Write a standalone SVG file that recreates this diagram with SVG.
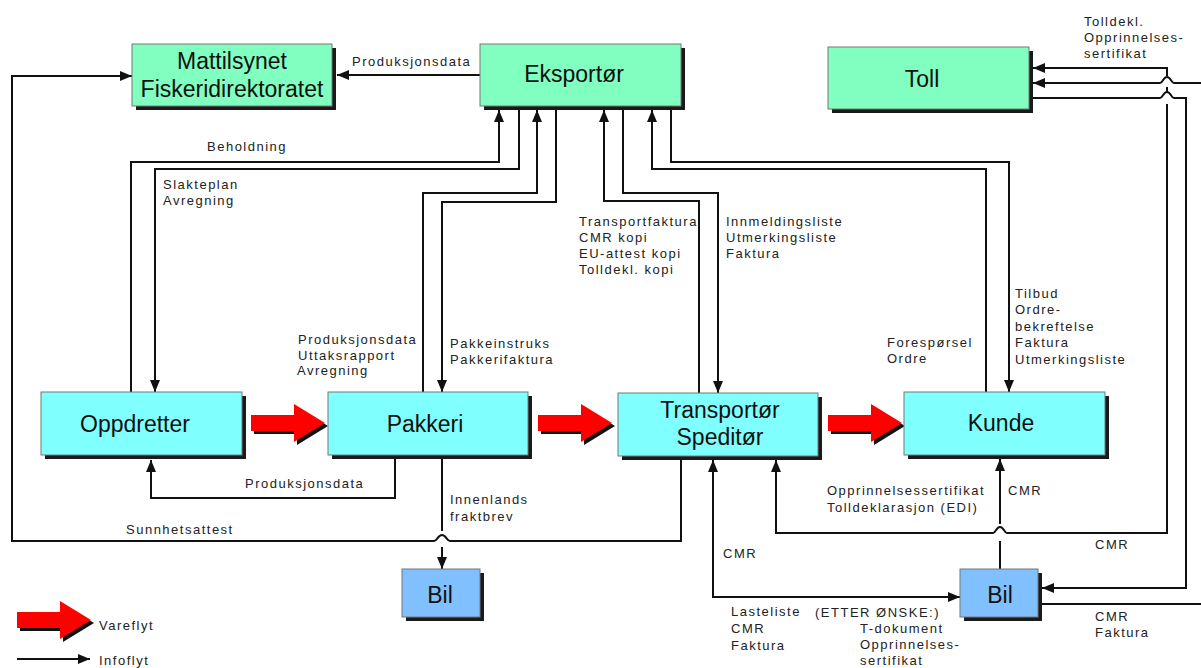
<svg xmlns="http://www.w3.org/2000/svg" width="1201" height="668" viewBox="0 0 1201 668">
<style>
.ln{fill:none;stroke:#111;stroke-width:2}
.lbl{font-family:"Liberation Sans",Arial,sans-serif;font-size:13px;letter-spacing:1.5px;fill:#222}
.nt{font-family:"Liberation Sans",Arial,sans-serif;font-size:23px;fill:#111;text-anchor:middle}
.sh{fill:#1a1a1a}
.g{fill:#80FFC0;stroke:#777;stroke-width:1}
.c{fill:#80FFFF;stroke:#777;stroke-width:1}
.b{fill:#80C0FF;stroke:#777;stroke-width:1}
.ra{fill:#FF0000}
.rs{fill:#111}
</style>
<defs>
<marker id="ah" markerUnits="userSpaceOnUse" markerWidth="12" markerHeight="10" refX="12" refY="5" orient="auto-start-reverse">
<path d="M0,0 L12,5 L0,10 Z" fill="#111"/>
</marker>
<path id="bigArrow" d="M0,-8 H43 V-19 L74,0 L43,19 V8 H0 Z"/>
</defs>

<g id="connectors">
<path class="ln" d="M480,75 H337" marker-end="url(#ah)"/>
<path class="ln" d="M681,456 V541 H450 C447,541 446,535 442,535 C438,535 437,541 434,541 H12 V76 H132" marker-end="url(#ah)"/>
<path class="ln" d="M395,456 V498 H151 V460" marker-end="url(#ah)"/>
<path class="ln" d="M131,392 V162 H499 V110" marker-end="url(#ah)"/>
<path class="ln" d="M519,106 V169 H155 V392" marker-end="url(#ah)"/>
<path class="ln" d="M423,392 V193 H537 V110" marker-end="url(#ah)"/>
<path class="ln" d="M556,106 V202 H442 V392" marker-end="url(#ah)"/>
<path class="ln" d="M699,393 V201 H604 V110" marker-end="url(#ah)"/>
<path class="ln" d="M623,106 V193 H718 V393" marker-end="url(#ah)"/>
<path class="ln" d="M986,392 V169 H652 V110" marker-end="url(#ah)"/>
<path class="ln" d="M671,106 V162 H1009 V392" marker-end="url(#ah)"/>
<path class="ln" d="M442,456 V531"/>
<path class="ln" d="M442,547 V569" marker-end="url(#ah)"/>
<path class="ln" d="M1033,68 H1167 V76" marker-start="url(#ah)"/>
<path class="ln" d="M1167,87 V92"/>
<path class="ln" d="M1167,104 V533 H1007 C1004,533 1004,527 1000,527 C996,527 996,533 993,533 H776 V460" marker-end="url(#ah)"/>
<path class="ln" d="M1201,83 H1174 C1171,83 1171,77 1167,77 C1163,77 1163,83 1160,83 H1033" marker-end="url(#ah)"/>
<path class="ln" d="M1029,98 H1160 C1163,98 1163,92 1167,92 C1171,92 1171,98 1174,98 H1186 V588 H1042" marker-end="url(#ah)"/>
<path class="ln" d="M1038,604 H1201"/>
<path class="ln" d="M1000,569 V541"/>
<path class="ln" d="M1000,524 V459" marker-end="url(#ah)"/>
<path class="ln" d="M713,460 V597 H960" marker-start="url(#ah)" marker-end="url(#ah)"/>
<path class="ln" d="M17,659 H90" marker-end="url(#ah)"/>
</g>

<g id="flow-arrows">
<use href="#bigArrow" class="rs" transform="translate(254,426)"/>
<use href="#bigArrow" class="ra" transform="translate(251,423)"/>
<use href="#bigArrow" class="rs" transform="translate(541,426)"/>
<use href="#bigArrow" class="ra" transform="translate(538,423)"/>
<use href="#bigArrow" class="rs" transform="translate(831,426)"/>
<use href="#bigArrow" class="ra" transform="translate(828,423)"/>
<use href="#bigArrow" class="rs" transform="translate(20,623)"/>
<use href="#bigArrow" class="ra" transform="translate(17,620)"/>
</g>

<g id="mattilsynet">
<rect class="sh" x="136" y="48" width="200" height="62"/>
<rect class="g" x="132" y="44" width="200" height="62"/>
<text class="nt" x="232" y="69">Mattilsynet</text>
<text class="nt" x="232" y="97">Fiskeridirektoratet</text>
</g>
<g id="eksportor">
<rect class="sh" x="484" y="48" width="201" height="62"/>
<rect class="g" x="480" y="44" width="201" height="62"/>
<text class="nt" x="574" y="82">Eksportør</text>
</g>
<g id="toll">
<rect class="sh" x="832" y="51" width="201" height="62"/>
<rect class="g" x="828" y="47" width="201" height="62"/>
<text class="nt" x="922" y="87">Toll</text>
</g>
<g id="oppdretter">
<rect class="sh" x="45" y="396" width="201" height="63"/>
<rect class="c" x="41" y="392" width="201" height="63"/>
<text class="nt" x="135" y="432">Oppdretter</text>
</g>
<g id="pakkeri">
<rect class="sh" x="332" y="396" width="200" height="63"/>
<rect class="c" x="328" y="392" width="200" height="63"/>
<text class="nt" x="425" y="432">Pakkeri</text>
</g>
<g id="transportor">
<rect class="sh" x="622" y="397" width="200" height="63"/>
<rect class="c" x="618" y="393" width="200" height="63"/>
<text class="nt" x="720" y="418">Transportør</text>
<text class="nt" x="720" y="445">Speditør</text>
</g>
<g id="kunde">
<rect class="sh" x="908" y="396" width="201" height="63"/>
<rect class="c" x="904" y="392" width="201" height="63"/>
<text class="nt" x="1001" y="431">Kunde</text>
</g>
<g id="bil1">
<rect class="sh" x="406" y="573" width="78" height="48"/>
<rect class="b" x="402" y="569" width="78" height="48"/>
<text class="nt" x="440" y="603">Bil</text>
</g>
<g id="bil2">
<rect class="sh" x="964" y="573" width="78" height="48"/>
<rect class="b" x="960" y="569" width="78" height="48"/>
<text class="nt" x="1000" y="603">Bil</text>
</g>

<g id="labels">
<text class="lbl" x="352" y="66">Produksjonsdata</text>
<text class="lbl" x="207" y="151">Beholdning</text>
<text class="lbl" x="163" y="189">Slakteplan</text>
<text class="lbl" x="163" y="205">Avregning</text>
<text class="lbl" x="298" y="344">Produksjonsdata</text>
<text class="lbl" x="298" y="360">Uttaksrapport</text>
<text class="lbl" x="297" y="375">Avregning</text>
<text class="lbl" x="450" y="348">Pakkeinstruks</text>
<text class="lbl" x="450" y="364">Pakkerifaktura</text>
<text class="lbl" x="245" y="488">Produksjonsdata</text>
<text class="lbl" x="126" y="534">Sunnhetsattest</text>
<text class="lbl" x="450" y="504">Innenlands</text>
<text class="lbl" x="450" y="521">fraktbrev</text>
<text class="lbl" x="579" y="226">Transportfaktura</text>
<text class="lbl" x="579" y="242">CMR kopi</text>
<text class="lbl" x="579" y="258">EU-attest kopi</text>
<text class="lbl" x="579" y="274">Tolldekl. kopi</text>
<text class="lbl" x="726" y="226">Innmeldingsliste</text>
<text class="lbl" x="726" y="242">Utmerkingsliste</text>
<text class="lbl" x="726" y="258">Faktura</text>
<text class="lbl" x="887" y="347">Forespørsel</text>
<text class="lbl" x="887" y="363">Ordre</text>
<text class="lbl" x="1015" y="298">Tilbud</text>
<text class="lbl" x="1015" y="314">Ordre-</text>
<text class="lbl" x="1015" y="331">bekreftelse</text>
<text class="lbl" x="1015" y="347">Faktura</text>
<text class="lbl" x="1015" y="364">Utmerkingsliste</text>
<text class="lbl" x="827" y="495">Opprinnelsessertifikat</text>
<text class="lbl" x="827" y="512">Tolldeklarasjon (EDI)</text>
<text class="lbl" x="1008" y="495">CMR</text>
<text class="lbl" x="1095" y="549">CMR</text>
<text class="lbl" x="723" y="558">CMR</text>
<text class="lbl" x="731" y="616">Lasteliste</text>
<text class="lbl" x="731" y="633">CMR</text>
<text class="lbl" x="731" y="650">Faktura</text>
<text class="lbl" x="815" y="617">(ETTER ØNSKE:)</text>
<text class="lbl" x="860" y="633">T-dokument</text>
<text class="lbl" x="860" y="649">Opprinnelses-</text>
<text class="lbl" x="860" y="665">sertifikat</text>
<text class="lbl" x="1095" y="621">CMR</text>
<text class="lbl" x="1095" y="637">Faktura</text>
<text class="lbl" x="1084" y="26">Tolldekl.</text>
<text class="lbl" x="1084" y="42">Opprinnelses-</text>
<text class="lbl" x="1084" y="58">sertifikat</text>
<text class="lbl" x="99" y="630">Vareflyt</text>
<text class="lbl" x="99" y="665">Infoflyt</text>
</g>
</svg>
